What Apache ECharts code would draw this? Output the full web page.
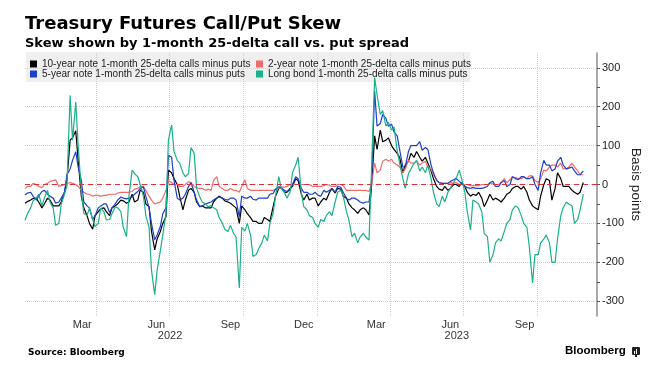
<!DOCTYPE html>
<html><head><meta charset="utf-8">
<script src="https://cdn.jsdelivr.net/npm/echarts@6/dist/echarts.min.js"></script>
<style>html,body{margin:0;padding:0;background:#fff}#c{width:664px;height:371px}</style>
</head><body><div id="c"></div>
<script>
const dates = [
'2022-01-03','2022-01-06','2022-01-10','2022-01-13','2022-01-17','2022-01-20','2022-01-24','2022-01-27','2022-01-31',
'2022-02-03','2022-02-07','2022-02-10','2022-02-14','2022-02-17','2022-02-21','2022-02-24','2022-02-28',
'2022-03-03','2022-03-07','2022-03-10','2022-03-14','2022-03-17','2022-03-21','2022-03-24','2022-03-28','2022-03-31',
'2022-04-04','2022-04-07','2022-04-11','2022-04-14','2022-04-18','2022-04-21','2022-04-25','2022-04-28',
'2022-05-02','2022-05-05','2022-05-09','2022-05-12','2022-05-16','2022-05-19','2022-05-23','2022-05-26','2022-05-30',
'2022-06-02','2022-06-06','2022-06-09','2022-06-13','2022-06-16','2022-06-20','2022-06-23','2022-06-27','2022-06-30',
'2022-07-04','2022-07-07','2022-07-11','2022-07-14','2022-07-18','2022-07-21','2022-07-25','2022-07-28',
'2022-08-01','2022-08-04','2022-08-08','2022-08-11','2022-08-15','2022-08-18','2022-08-22','2022-08-25','2022-08-29',
'2022-09-01','2022-09-05','2022-09-08','2022-09-12','2022-09-15','2022-09-19','2022-09-22','2022-09-26','2022-09-29',
'2022-10-03','2022-10-06','2022-10-10','2022-10-13','2022-10-17','2022-10-20','2022-10-24','2022-10-27','2022-10-31',
'2022-11-03','2022-11-07','2022-11-10','2022-11-14','2022-11-17','2022-11-21','2022-11-24','2022-11-28',
'2022-12-01','2022-12-05','2022-12-08','2022-12-12','2022-12-15','2022-12-19','2022-12-22','2022-12-26','2022-12-29',
'2023-01-02','2023-01-05','2023-01-09','2023-01-12','2023-01-16','2023-01-19','2023-01-23','2023-01-26','2023-01-30',
'2023-02-02','2023-02-06','2023-02-09','2023-02-13','2023-02-16','2023-02-20','2023-02-23','2023-02-27',
'2023-03-02','2023-03-06','2023-03-09','2023-03-13','2023-03-16','2023-03-20','2023-03-23','2023-03-27','2023-03-30',
'2023-04-03','2023-04-06','2023-04-10','2023-04-13','2023-04-17','2023-04-20','2023-04-24','2023-04-27',
'2023-05-01','2023-05-04','2023-05-08','2023-05-11','2023-05-15','2023-05-18','2023-05-22','2023-05-25','2023-05-29',
'2023-06-01','2023-06-05','2023-06-08','2023-06-12','2023-06-15','2023-06-19','2023-06-22','2023-06-26','2023-06-29',
'2023-07-03','2023-07-06','2023-07-10','2023-07-13','2023-07-17','2023-07-20','2023-07-24','2023-07-27','2023-07-31',
'2023-08-03','2023-08-07','2023-08-10','2023-08-14','2023-08-17','2023-08-21','2023-08-24','2023-08-28','2023-08-31',
'2023-09-04','2023-09-07','2023-09-11','2023-09-14','2023-09-18','2023-09-21','2023-09-25','2023-09-28',
'2023-10-02','2023-10-05','2023-10-09','2023-10-12','2023-10-16','2023-10-19','2023-10-23','2023-10-26','2023-10-30',
'2023-11-02','2023-11-06','2023-11-09','2023-11-13','2023-11-16','2023-11-20','2023-11-23','2023-11-27'
];
const tenYear = [
-48,-44,-40,-36,-35,-45,-60,-50,-35,-40,
-55,-55,-55,-45,-20,10,114,120,138,62,
-32,-60,-80,-100,-115,-80,-70,-62,-60,-70,
-80,-60,-55,-50,-40,-42,-48,-45,-25,-45,
-40,-14,-20,-50,-57,-120,-168,-140,-121,-100,
-83,37,30,15,0,-30,-65,-40,-15,-10,
-20,-45,-57,-55,-60,-60,-60,-45,-35,-30,
-35,-42,-45,-48,-55,-60,-100,-55,-65,-75,
-85,-95,-95,-100,-100,-85,-90,-95,-57,-30,
-10,-8,-20,-20,-10,-5,15,10,-25,-40,
-25,-40,-35,-35,-55,-45,-35,-40,-20,-10,
-22,-10,-12,-30,-35,-50,-60,-65,-74,-65,
-60,-65,-78,-10,125,90,140,110,114,120,
100,90,80,70,30,50,60,80,70,85,
70,60,70,55,35,15,-5,-12,-15,-5,
-15,-10,0,0,-5,5,-5,-20,-30,-25,
-28,-20,-35,-57,-40,-25,-40,-35,-40,-45,
-35,-25,-20,-10,-5,-5,-12,-5,-20,-40,
-55,-60,-65,-30,0,15,10,-40,-10,30,
15,-5,-5,-5,-15,-20,-25,-20,
5
];
const twoYear = [
-10,-5,-5,3,0,-5,-8,0,3,8,
10,12,-5,-3,0,2,5,3,0,-5,
-15,-20,-25,-25,-30,-28,-28,-30,-28,-28,
-25,-25,-25,-22,-20,-20,-20,-20,-18,-12,
-10,-5,-5,-15,-30,-40,-50,-48,-45,-35,
-15,10,5,0,0,-5,-5,0,7,5,
-5,-8,-10,-10,-15,-12,-15,10,20,-5,
-10,-15,-15,-10,-15,-15,-20,-5,12,-10,
-15,-15,-15,-15,-15,-15,-15,-15,-15,-12,
-10,-7,-7,-5,0,0,0,0,0,0,
0,0,-5,-5,-5,-5,-3,0,-2,-5,
-5,0,0,-3,-15,-15,-15,-15,-15,-15,
-15,-15,-18,0,55,30,37,60,65,60,
65,55,50,45,30,40,62,55,55,60,
50,55,60,45,40,25,12,5,3,3,
3,5,3,5,0,2,0,0,-3,-3,
-3,-3,0,0,0,3,2,0,0,5,
15,5,12,20,18,15,15,20,15,22,
22,10,5,15,37,35,45,50,50,45,
55,40,40,45,55,45,35,25,
25
];
const fiveYear = [
-27,-22,-20,-30,-40,-30,-18,-15,-25,-30,
-35,-48,-45,-35,-20,25,40,62,84,45,
10,-45,-55,-60,-90,-80,-60,-55,-50,-50,
-72,-60,-50,-40,-32,-35,-37,-35,-32,-25,
-18,-10,-6,-30,-60,-100,-142,-130,-108,-75,
-60,75,70,10,-35,-40,-35,-25,-5,5,
-20,-40,-57,-55,-50,-48,-45,-40,-35,-32,
-35,-38,-40,-35,-35,-40,-83,-30,-35,-35,
-30,-38,-40,-35,-35,-35,-35,-25,-23,-12,
-6,-8,-15,-18,-15,0,20,15,-10,-20,
-20,-25,-25,-20,-28,-30,-15,-20,-15,-10,
-20,-5,-7,-20,-35,-40,-35,-35,-40,-45,
-48,-45,-45,0,240,150,157,180,170,150,
155,135,125,90,45,45,85,100,100,100,
110,88,95,90,50,30,10,5,3,3,
3,8,12,16,8,3,-5,-8,-10,-8,
-10,-10,-10,-8,-5,5,8,-5,-5,5,
10,-5,0,20,15,12,20,20,15,15,
20,0,-15,30,62,50,50,35,40,60,
70,50,40,42,45,35,25,25,
35
];
const longBond = [
-92,-75,-60,-42,-35,-25,-55,-35,-15,-45,
-60,-105,-100,-50,-25,-5,229,114,212,100,
-20,-74,-80,-60,-90,-108,-100,-60,-70,-91,
-90,-75,-57,-60,-70,-110,-134,-30,37,28,
20,0,-30,-80,-110,-220,-283,-220,-170,-130,
-74,114,153,85,62,55,30,20,28,95,
80,-10,-32,-45,-50,-57,-55,-60,-65,-85,
-100,-115,-121,-105,-126,-135,-266,-110,-120,-100,
-130,-185,-180,-165,-150,-130,-145,-100,-74,-30,
20,-10,-20,-35,-20,30,50,70,-20,-57,
-65,-80,-85,-100,-110,-90,-95,-80,-70,-80,
-45,-20,-15,-30,-70,-91,-135,-125,-150,-135,
-125,-135,-143,30,275,230,180,190,150,160,
140,148,87,55,15,-10,28,40,55,62,
35,45,30,50,15,-20,-50,-57,-30,-45,
-20,-10,5,15,37,15,-20,-70,-117,-40,
-45,-50,-70,-126,-134,-200,-180,-150,-140,-145,
-120,-100,-90,-65,-55,-60,-80,-100,-110,-160,
-253,-180,-180,-150,-140,-130,-150,-200,-200,-140,
-80,-60,-45,-50,-55,-100,-90,-65,
-25
];
const seriesNames = [
'10-year note 1-month 25-delta calls minus puts',
'2-year note 1-month 25-delta calls minus puts',
'5-year note 1-month 25-delta calls minus puts',
'Long bond 1-month 25-delta calls minus puts'
];
const seriesColors = ['#000000','#f06b6b','#1d40c8','#1bb08a'];
const xStart = '2022-01-03';
const xEnd = '2023-12-14';
const quarterStarts = ['2022-04-01','2022-07-01','2022-10-01','2023-01-01','2023-04-01','2023-07-01','2023-10-01'];
const monthLabelDates = ['2022-03-15','2022-06-15','2022-09-15','2022-12-15','2023-03-15','2023-06-15','2023-09-15'];
const yearLabelDates = ['2022-07-02','2023-06-23'];
const monthNames = ['Jan','Feb','Mar','Apr','May','Jun','Jul','Aug','Sep','Oct','Nov','Dec'];
const yLabelValues = [-300,-200,-100,0,100,200,300];
const yMinorTicks = [-250,-150,-50,50,150,250];

const ts = s => new Date(s + 'T00:00:00').getTime();
const pairs = arr => dates.map((d, i) => [ts(d), arr[i]]);
const valueSets = [tenYear, twoYear, fiveYear, longBond];

const chart = echarts.init(document.getElementById('c'), null, {renderer: 'canvas'});
const lineFont = 'Liberation Sans, Arial, sans-serif';

const series = valueSets.map((vals, i) => ({
  name: seriesNames[i], type: 'line', data: pairs(vals), xAxisIndex: 0, yAxisIndex: 0,
  showSymbol: false, symbol: 'none', animation: false,
  lineStyle: {width: 1.2, color: seriesColors[i]}, itemStyle: {color: seriesColors[i]}
}));
series.push({
  name: 'zero', type: 'line', data: [], xAxisIndex: 0, yAxisIndex: 0, silent: true,
  markLine: {silent: true, symbol: 'none', label: {show: false},
    lineStyle: {color: '#d8333b', type: [5, 4], width: 1}, data: [{yAxis: 0}]}
});

chart.setOption({
  animation: false,
  backgroundColor: '#ffffff',
  title: [
    {text: 'Treasury Futures Call/Put Skew', left: 20, top: 10,
     textStyle: {fontFamily: 'DejaVu Sans', fontWeight: 'bold', fontSize: 18, color: '#000'}},
    {text: 'Skew shown by 1-month 25-delta call vs. put spread', left: 20, top: 32,
     textStyle: {fontFamily: 'DejaVu Sans', fontWeight: 'bold', fontSize: 13, color: '#000'}},
    {text: 'Source: Bloomberg', left: 23, top: 343,
     textStyle: {fontFamily: 'DejaVu Sans', fontWeight: 'bold', fontSize: 9, color: '#000'}},
    {text: 'Bloomberg', left: 560, top: 340,
     textStyle: {fontFamily: 'Liberation Sans', fontWeight: 'bold', fontSize: 11.5, color: '#000'}}
  ],
  graphic: [
    {type: 'rect', z: -1, shape: {x: 26, y: 52, width: 444, height: 30}, style: {fill: '#efefef'}},
    {type: 'group', left: 632, top: 347, children: [
      {type: 'rect', shape: {x: 0, y: 0, width: 8, height: 8, r: 1}, style: {fill: '#222'}},
      {type: 'rect', shape: {x: 2, y: 4, width: 1, height: 3}, style: {fill: '#fff'}},
      {type: 'rect', shape: {x: 4, y: 2, width: 1, height: 5}, style: {fill: '#fff'}},
      {type: 'rect', shape: {x: 3, y: 8, width: 2, height: 2}, style: {fill: '#222'}}
    ]}
  ],
  legend: [
    {data: [seriesNames[0], seriesNames[2]], orient: 'vertical', left: 30, top: 59,
     itemWidth: 7, itemHeight: 7, itemGap: 0, icon: 'rect', padding: 0, selectedMode: false,
     textStyle: {fontFamily: lineFont, fontSize: 10, lineHeight: 10, color: '#222'}},
    {data: [seriesNames[1], seriesNames[3]], orient: 'vertical', left: 256, top: 59,
     itemWidth: 7, itemHeight: 7, itemGap: 0, icon: 'rect', padding: 0, selectedMode: false,
     textStyle: {fontFamily: lineFont, fontSize: 10, lineHeight: 10, color: '#222'}}
  ],
  grid: {left: 25, right: 67, top: 53, bottom: 55, containLabel: false},
  xAxis: [
    {type: 'value', min: ts(xStart), max: ts(xEnd),
     axisLine: {show: false}, axisTick: {show: false, customValues: quarterStarts.map(ts)},
     splitLine: {show: true, lineStyle: {type: 'dotted', color: '#cfcfcf', width: 1}},
     axisLabel: {customValues: monthLabelDates.map(ts), margin: 3, fontFamily: lineFont, fontSize: 11, color: '#333',
       formatter: v => monthNames[new Date(v).getMonth()]}},
    {type: 'value', min: ts(xStart), max: ts(xEnd), position: 'bottom', offset: 0,
     axisLine: {show: false}, axisTick: {show: false, customValues: yearLabelDates.map(ts)}, splitLine: {show: false},
     axisLabel: {customValues: yearLabelDates.map(ts), margin: 14, fontFamily: lineFont, fontSize: 11, color: '#333',
       formatter: v => String(new Date(v).getFullYear())}}
  ],
  yAxis: [
    {type: 'value', position: 'right', min: -338, max: 338,
     axisLine: {show: true, lineStyle: {color: '#8c8c8c', width: 1.5}},
     axisTick: {show: true, customValues: yLabelValues, length: 3, lineStyle: {color: '#555'}},
     axisLabel: {customValues: yLabelValues, margin: 5, fontFamily: lineFont, fontSize: 11, color: '#222'},
     splitLine: {show: true, lineStyle: {type: 'dotted', color: '#cfcfcf', width: 1}},
     name: 'Basis points', nameLocation: 'middle', nameRotate: -90, nameGap: 32, nameMoveOverlap: false,
     nameTextStyle: {fontFamily: lineFont, fontSize: 13.5, color: '#222'}},
    {type: 'value', position: 'right', min: -338, max: 338,
     axisLine: {show: false}, axisTick: {show: true, customValues: yMinorTicks, length: 3, lineStyle: {color: '#555'}},
     axisLabel: {show: false}, splitLine: {show: false}}
  ],
  series: series
});
</script>
</body></html>
